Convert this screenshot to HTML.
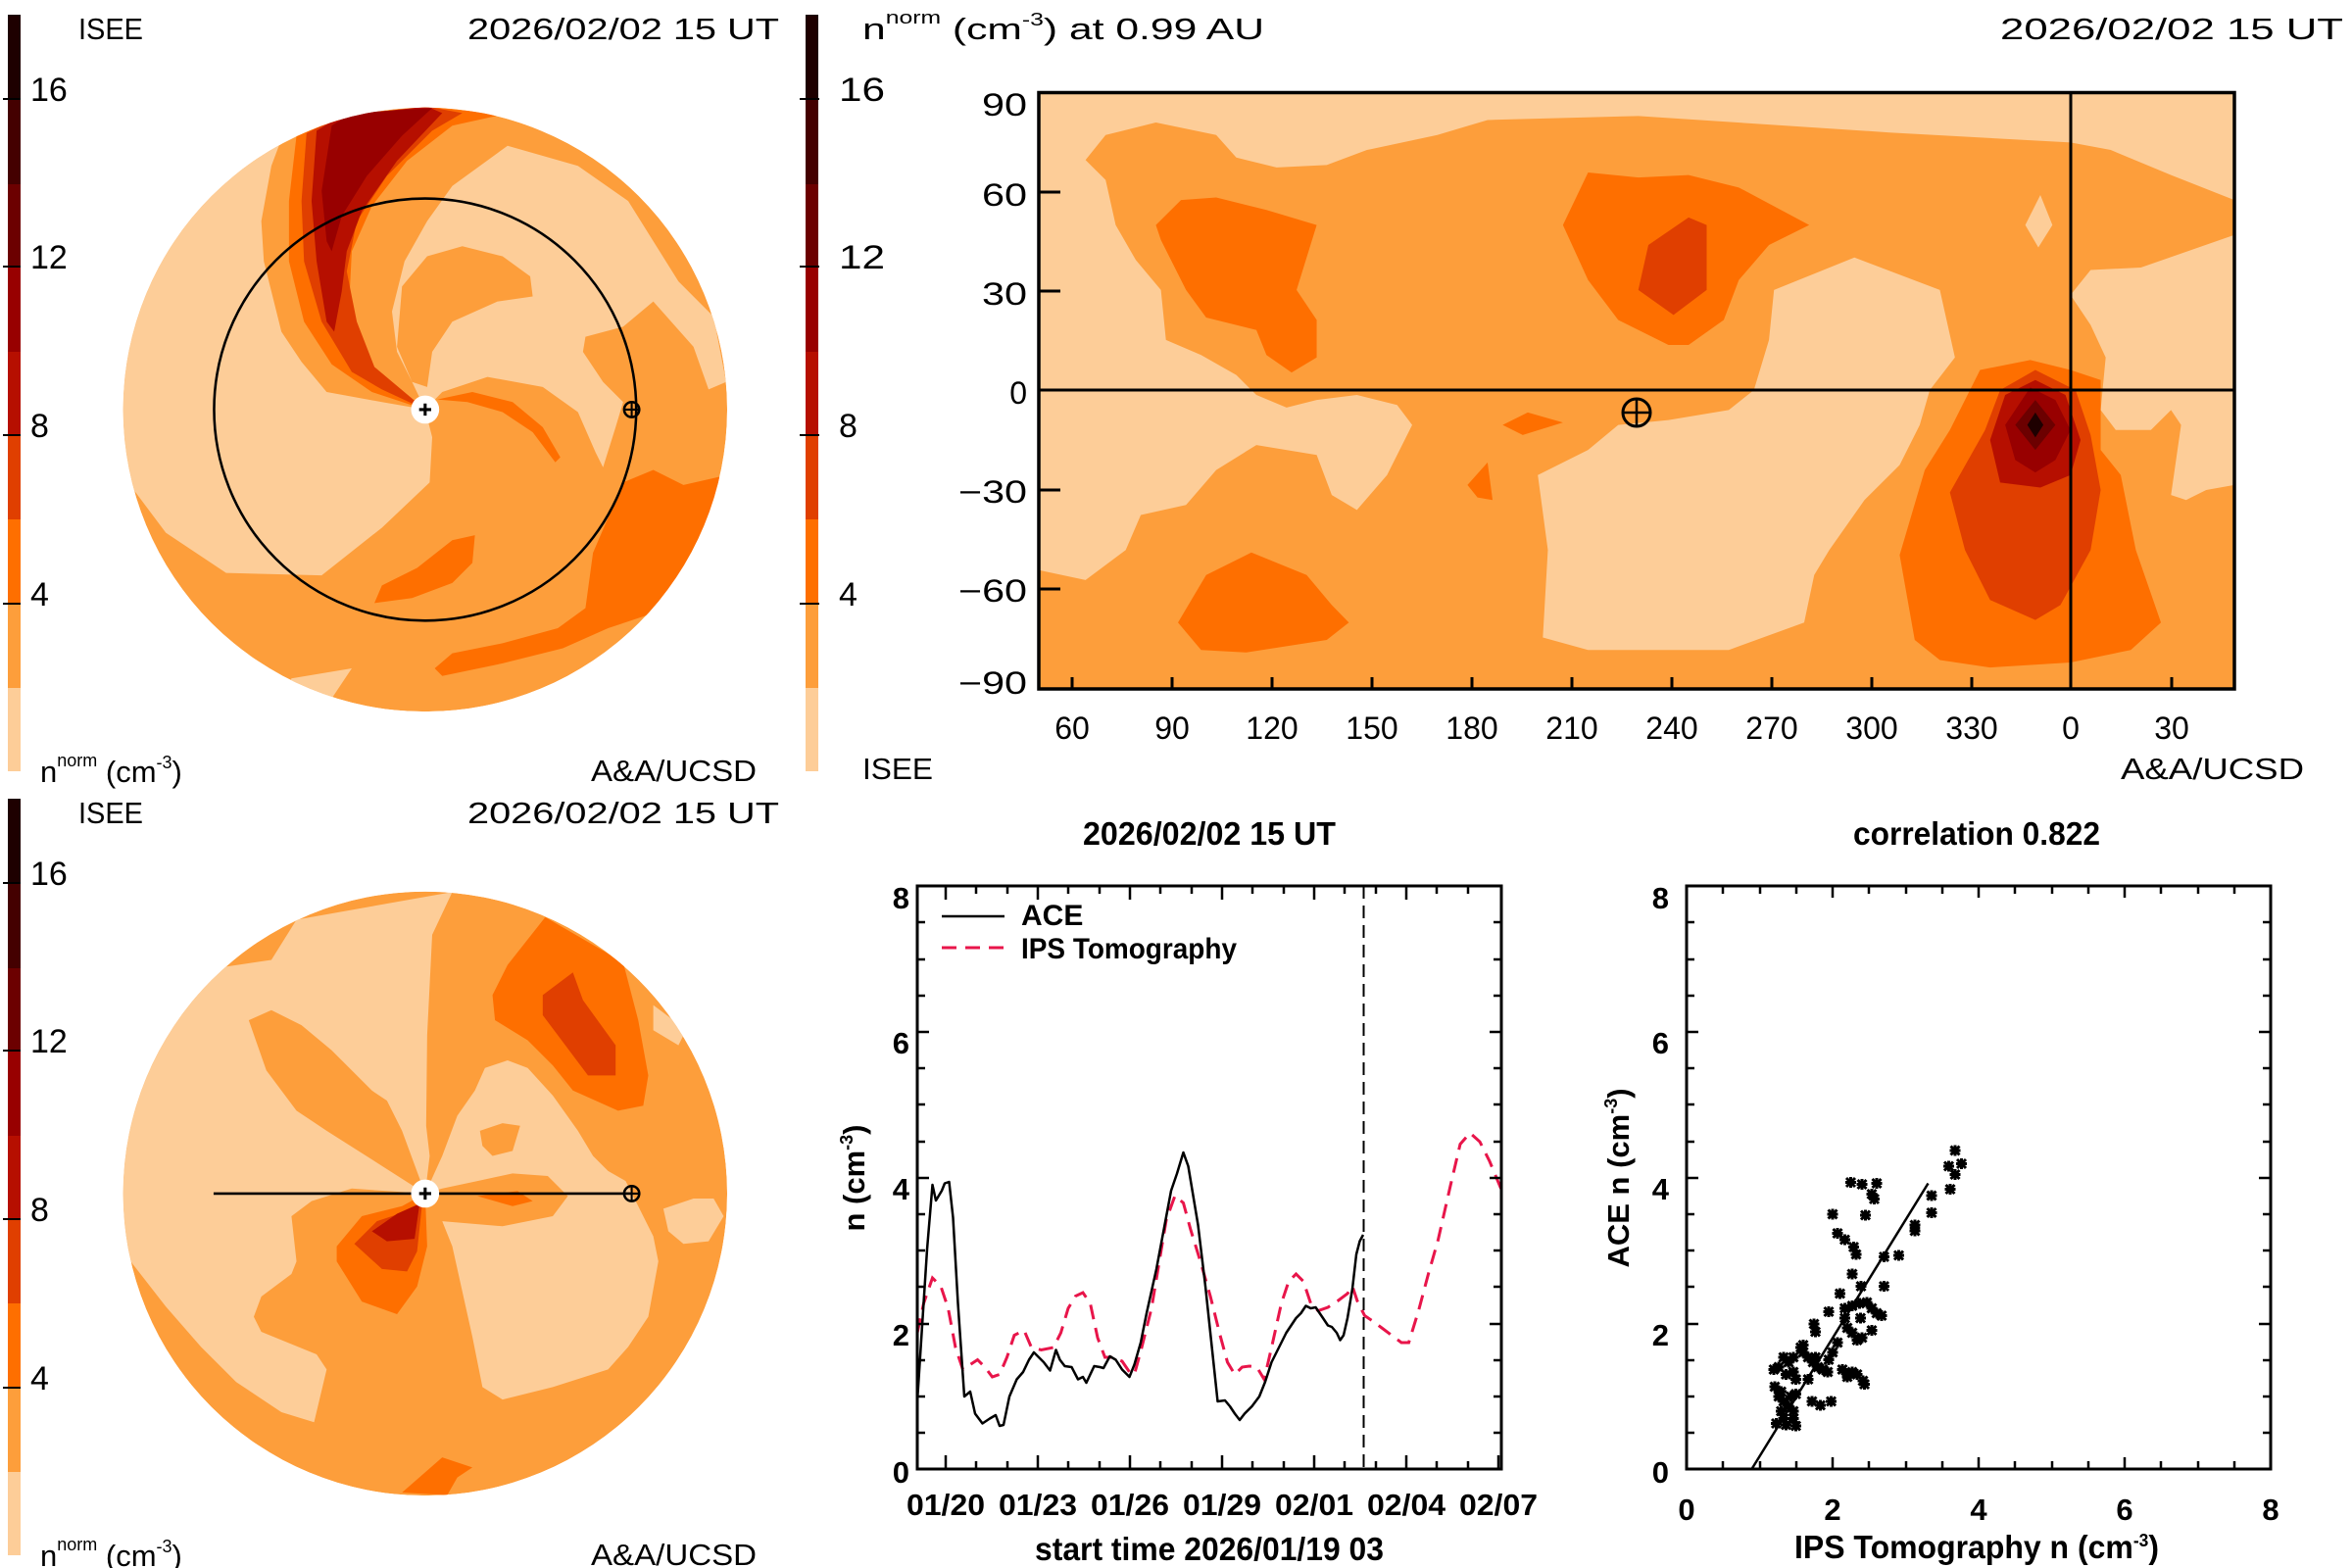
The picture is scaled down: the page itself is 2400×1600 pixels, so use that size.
<!DOCTYPE html>
<html><head><meta charset="utf-8"><style>html,body{margin:0;padding:0;background:#fff}svg{display:block}</style></head>
<body>
<svg width="2400" height="1600" viewBox="0 0 2400 1600" xmlns="http://www.w3.org/2000/svg" font-family="Liberation Sans, sans-serif">
<defs>
<clipPath id="c1"><circle cx="846" cy="815" r="601"/></clipPath>
<clipPath id="bx"><rect x="253" y="185" width="1190" height="1193"/></clipPath>
<g id="cbar">
<rect x="0" y="701" width="13" height="86" fill="#fdcd98"/>
<rect x="0" y="615" width="13" height="87" fill="#fd9e3b"/>
<rect x="0" y="529" width="13" height="87" fill="#fe6f00"/>
<rect x="0" y="444" width="13" height="86" fill="#e03f00"/>
<rect x="0" y="358" width="13" height="87" fill="#b60f00"/>
<rect x="0" y="272" width="13" height="87" fill="#980000"/>
<rect x="0" y="187" width="13" height="86" fill="#6c0000"/>
<rect x="0" y="101" width="13" height="87" fill="#440000"/>
<rect x="0" y="15" width="13" height="87" fill="#1e0000"/>
</g>
<path id="ast" d="M-9,-9L9,9M-9,9L9,-9M-11,0L11,0M0,-11L0,11" stroke="#000" stroke-width="6" fill="none"/>
</defs>

<!-- ============ TOP LEFT ============ -->
<g>
<use href="#cbar" x="8"/>
<g stroke="#000" stroke-width="2"><line x1="3" y1="101" x2="21" y2="101"/><line x1="3" y1="272" x2="21" y2="272"/><line x1="3" y1="444" x2="21" y2="444"/><line x1="3" y1="616" x2="21" y2="616"/></g>
<g font-size="31" fill="#000">
<text x="31" y="103" font-size="34">16</text><text x="31" y="274" font-size="34">12</text><text x="31" y="446" font-size="34">8</text><text x="31" y="618" font-size="34">4</text>
<text x="80" y="40" textLength="66" lengthAdjust="spacingAndGlyphs">ISEE</text>
<text x="477" y="40" textLength="318" lengthAdjust="spacingAndGlyphs">2026/02/02  15  UT</text>
<text x="41" y="798">n<tspan font-size="18" dy="-16">norm</tspan><tspan dy="16"> (cm</tspan><tspan font-size="18" dy="-14">-3</tspan><tspan dy="14">)</tspan></text>
<text x="603" y="797" textLength="169" lengthAdjust="spacingAndGlyphs">A&amp;A/UCSD</text>
</g>
<g transform="scale(0.5128)">
<g clip-path="url(#c1)">
<circle cx="846" cy="815" r="601" fill="#fd9e3b"/>
<polygon fill="#fdcd98" points="500,200 555,290 540,330 520,440 525,520 545,600 560,660 600,720 650,780 760,800 846,815 860,870 855,960 760,1050 640,1145 450,1140 330,1060 240,940 200,200"/>
<polygon fill="#fdcd98" points="846,815 820,760 790,700 780,620 805,520 850,440 900,370 1010,290 1150,330 1250,400 1350,560 1420,630 1445,760 1410,775 1380,690 1300,600 1240,650 1165,670 1160,700 1200,760 1240,800 1225,850 1200,930 1185,900 1150,820 1080,770 970,750 880,780"/>
<polygon fill="#fd9e3b" points="790,690 800,570 850,510 920,490 1000,510 1055,550 1060,590 990,600 900,640 860,700 850,770 820,760"/>
<polygon fill="#fdcd98" points="580,1350 700,1330 660,1390 560,1400"/>
<polygon fill="#fe6f00" points="865,1330 900,1300 1000,1280 1110,1250 1165,1210 1180,1100 1240,960 1300,935 1360,965 1470,940 1470,1500 1300,1220 1210,1250 1120,1290 1000,1320 880,1345"/>
<polygon fill="#fe6f00" points="745,1200 760,1165 830,1130 900,1075 945,1065 940,1120 900,1160 820,1190"/>
<polygon fill="#fe6f00" points="870,795 940,780 1020,800 1080,850 1115,910 1105,920 1060,860 1000,820 930,800"/>
<polygon fill="#fe6f00" points="590,270 575,400 575,520 605,640 660,725 740,780 846,815 760,760 720,700 695,600 700,500 740,410 810,320 900,250 1000,228 850,212 640,250"/>
<polygon fill="#e03f00" points="610,265 600,400 605,520 640,640 700,740 760,775 846,815 745,730 710,640 690,540 710,440 770,350 860,260 920,225 850,212 660,240"/>
<polygon fill="#b60f00" points="630,260 620,400 630,520 650,640 665,660 680,580 690,500 720,420 790,320 880,225 850,212 680,230"/>
<polygon fill="#980000" points="660,250 640,380 650,480 660,500 680,430 730,350 800,270 860,215 700,225"/>
</g>
<circle cx="846" cy="815" r="420" fill="none" stroke="#000" stroke-width="5"/>
<circle cx="846" cy="815" r="28" fill="#fff"/>
<path d="M834,815H858M846,803V827" stroke="#000" stroke-width="6"/>
<circle cx="1257" cy="815" r="15" fill="none" stroke="#000" stroke-width="5"/>
<path d="M1242,815H1272M1257,800V830" stroke="#000" stroke-width="4"/>
</g>
</g>

<!-- ============ BOTTOM LEFT ============ -->
<g transform="translate(0,800)">
<use href="#cbar" x="8"/>
<g stroke="#000" stroke-width="2"><line x1="3" y1="101" x2="21" y2="101"/><line x1="3" y1="272" x2="21" y2="272"/><line x1="3" y1="444" x2="21" y2="444"/><line x1="3" y1="616" x2="21" y2="616"/></g>
<g font-size="31" fill="#000">
<text x="31" y="103" font-size="34">16</text><text x="31" y="274" font-size="34">12</text><text x="31" y="446" font-size="34">8</text><text x="31" y="618" font-size="34">4</text>
<text x="80" y="40" textLength="66" lengthAdjust="spacingAndGlyphs">ISEE</text>
<text x="477" y="40" textLength="318" lengthAdjust="spacingAndGlyphs">2026/02/02  15  UT</text>
<text x="41" y="798">n<tspan font-size="18" dy="-16">norm</tspan><tspan dy="16"> (cm</tspan><tspan font-size="18" dy="-14">-3</tspan><tspan dy="14">)</tspan></text>
<text x="603" y="797" textLength="169" lengthAdjust="spacingAndGlyphs">A&amp;A/UCSD</text>
</g>
<g transform="scale(0.5128)">
<g clip-path="url(#c1)">
<circle cx="846" cy="815" r="601" fill="#fd9e3b"/>
<polygon fill="#fdcd98" points="440,365 540,350 590,270 900,215 860,300 850,500 848,680 855,740 846,815 700,805 620,830 580,860 590,950 580,975 520,1020 505,1060 520,1090 630,1135 650,1165 625,1270 560,1250 470,1190 400,1120 330,1040 260,950 200,900 200,200"/>
<polygon fill="#fd9e3b" points="495,470 540,450 600,480 660,530 740,610 770,630 800,690 846,815 760,760 650,690 590,650 530,570"/>
<polygon fill="#fdcd98" points="846,815 880,740 910,660 945,610 965,565 1010,550 1050,565 1100,620 1150,690 1180,740 1210,770 1245,790 1300,900 1310,950 1290,1060 1250,1120 1210,1165 1100,1200 1000,1225 960,1200 940,1100 900,920 880,870 1000,880 1100,860 1130,820 1090,780 1020,775 950,790 880,805"/>
<polygon fill="#fd9e3b" points="955,690 1000,675 1035,680 1020,730 980,740 960,720"/>
<polygon fill="#fdcd98" points="1300,440 1340,470 1360,500 1350,520 1300,490"/>
<polygon fill="#fdcd98" points="1320,845 1380,825 1420,825 1440,860 1410,910 1360,915 1330,890"/>
<polygon fill="#fe6f00" points="980,420 1010,360 1085,265 1240,355 1270,470 1290,580 1280,640 1230,650 1140,610 1100,560 1050,510 985,470"/>
<polygon fill="#e03f00" points="1080,420 1140,375 1160,430 1225,520 1225,580 1170,580 1110,500 1080,460"/>
<polygon fill="#fe6f00" points="670,920 720,860 800,840 846,815 850,920 830,1000 790,1055 720,1030 670,950"/>
<polygon fill="#e03f00" points="705,915 750,870 810,850 840,835 830,930 810,970 760,965"/>
<polygon fill="#b60f00" points="740,890 790,855 835,835 825,905 770,910"/>
<polygon fill="#fe6f00" points="800,1410 880,1340 940,1360 910,1380 890,1415"/>
<polygon fill="#fe6f00" points="950,820 1030,810 1060,830 1020,840"/>
</g>
<line x1="425" y1="815" x2="1257" y2="815" stroke="#000" stroke-width="5"/>
<circle cx="846" cy="815" r="28" fill="#fff"/>
<path d="M834,815H858M846,803V827" stroke="#000" stroke-width="6"/>
<circle cx="1257" cy="815" r="15" fill="none" stroke="#000" stroke-width="5"/>
<path d="M1242,815H1272M1257,800V830" stroke="#000" stroke-width="4"/>
</g>
</g>

<!-- ============ TOP RIGHT ============ -->
<g>
<use href="#cbar" x="822"/>
<g stroke="#000" stroke-width="2"><line x1="816" y1="101" x2="836" y2="101"/><line x1="816" y1="272" x2="836" y2="272"/><line x1="816" y1="444" x2="836" y2="444"/><line x1="816" y1="616" x2="836" y2="616"/></g>
<g font-size="31" fill="#000">
<text x="856" y="103" font-size="34" textLength="47" lengthAdjust="spacingAndGlyphs">16</text>
<text x="856" y="274" font-size="34" textLength="47" lengthAdjust="spacingAndGlyphs">12</text>
<text x="856" y="446" font-size="34">8</text><text x="856" y="618" font-size="34">4</text>
<text x="880" y="40" textLength="410" lengthAdjust="spacingAndGlyphs">n<tspan font-size="18" dy="-16">norm</tspan><tspan dy="16">  (cm</tspan><tspan font-size="18" dy="-14">-3</tspan><tspan dy="14">)  at  0.99  AU</tspan></text>
<text x="2041" y="40" textLength="350" lengthAdjust="spacingAndGlyphs">2026/02/02  15  UT</text>
<text x="880" y="795" textLength="72" lengthAdjust="spacingAndGlyphs">ISEE</text>
<text x="2164" y="795" textLength="187" lengthAdjust="spacingAndGlyphs">A&amp;A/UCSD</text>
</g>
<g transform="translate(800,0) scale(1.0256,0.5102)">
<g clip-path="url(#bx)">
<rect x="253" y="185" width="1190" height="1193" fill="#fd9e3b"/>
<polygon fill="#fdcd98" points="253,185 1443,185 1443,400 1380,350 1320,300 1280,285 1100,265 850,232 700,240 650,270 580,300 540,330 490,335 450,315 430,270 370,245 320,270 300,320 320,360 330,450 350,520 375,580 380,680 415,710 450,750 470,790 500,815 530,800 570,790 610,810 625,850 600,950 570,1020 545,990 530,910 470,890 430,940 400,1010 355,1030 340,1100 300,1160 253,1140"/>
<polygon fill="#fdcd98" points="985,580 1065,515 1150,580 1165,715 1140,780 1130,850 1110,930 1075,1000 1040,1100 1025,1150 1015,1245 940,1300 800,1300 755,1275 760,1100 750,950 800,900 830,850 880,840 940,820 965,780 980,680"/>
<polygon fill="#fdcd98" points="1280,590 1300,540 1350,535 1443,470 1443,970 1415,980 1395,1000 1380,990 1390,850 1380,820 1360,860 1325,860 1310,820 1315,715 1300,650"/>
<polygon fill="#fdcd98" points="1250,390 1262,450 1248,495 1235,450"/>
<polygon fill="#fe6f00" points="370,450 395,400 430,395 480,420 530,450 510,580 530,640 530,715 505,745 480,710 470,660 420,635 400,580 375,480"/>
<polygon fill="#fe6f00" points="775,450 800,345 850,355 900,350 950,375 1020,450 980,490 950,560 935,640 900,690 880,690 830,640 800,560"/>
<polygon fill="#e03f00" points="850,580 860,490 900,435 918,450 918,580 885,630"/>
<polygon fill="#fe6f00" points="715,850 740,825 775,845 735,870"/>
<polygon fill="#fe6f00" points="680,970 700,925 705,1000 690,995"/>
<polygon fill="#fe6f00" points="392,1245 420,1150 465,1105 520,1150 545,1210 562,1245 540,1280 460,1305 415,1300"/>
<polygon fill="#fe6f00" points="1110,1110 1135,940 1160,860 1190,740 1240,720 1280,740 1310,760 1310,900 1330,950 1345,1100 1370,1245 1340,1300 1280,1325 1200,1335 1150,1320 1125,1280"/>
<polygon fill="#e03f00" points="1160,985 1195,860 1210,780 1245,740 1285,780 1300,870 1310,980 1300,1100 1270,1210 1245,1240 1200,1200 1175,1100"/>
<polygon fill="#b60f00" points="1200,880 1215,790 1245,760 1275,790 1290,880 1280,950 1250,975 1210,965"/>
<polygon fill="#980000" points="1215,850 1240,775 1265,800 1280,860 1265,920 1245,945 1225,920"/>
<polygon fill="#6c0000" points="1225,850 1245,800 1265,850 1245,900"/>
<polygon fill="#1e0000" points="1237,850 1245,825 1253,850 1245,875"/>
</g>
</g>
<rect x="1060" y="94.5" width="1220" height="608.5" fill="none" stroke="#000" stroke-width="3.5"/>
<line x1="1060" y1="398" x2="2280" y2="398" stroke="#000" stroke-width="3"/>
<line x1="2113" y1="94.5" x2="2113" y2="703" stroke="#000" stroke-width="3"/>
<g stroke="#000" stroke-width="3">
<line x1="1060" y1="196" x2="1082" y2="196"/><line x1="1060" y1="297" x2="1082" y2="297"/><line x1="1060" y1="500" x2="1082" y2="500"/><line x1="1060" y1="601" x2="1082" y2="601"/>
<line x1="1094" y1="703" x2="1094" y2="691"/><line x1="1196" y1="703" x2="1196" y2="691"/><line x1="1298" y1="703" x2="1298" y2="691"/><line x1="1400" y1="703" x2="1400" y2="691"/><line x1="1502" y1="703" x2="1502" y2="691"/><line x1="1604" y1="703" x2="1604" y2="691"/><line x1="1706" y1="703" x2="1706" y2="691"/><line x1="1808" y1="703" x2="1808" y2="691"/><line x1="1910" y1="703" x2="1910" y2="691"/><line x1="2012" y1="703" x2="2012" y2="691"/><line x1="2216" y1="703" x2="2216" y2="691"/>
</g>
<circle cx="1670" cy="421" r="14" fill="none" stroke="#000" stroke-width="3"/>
<path d="M1656,421H1684M1670,407V435" stroke="#000" stroke-width="2.5"/>
<g font-size="32" fill="#000" text-anchor="end">
<text x="1048" y="118" textLength="46" lengthAdjust="spacingAndGlyphs">90</text>
<text x="1048" y="210" textLength="46" lengthAdjust="spacingAndGlyphs">60</text>
<text x="1048" y="311" textLength="46" lengthAdjust="spacingAndGlyphs">30</text>
<text x="1048" y="412">0</text>
<text x="1048" y="513" textLength="70" lengthAdjust="spacingAndGlyphs">−30</text>
<text x="1048" y="614" textLength="70" lengthAdjust="spacingAndGlyphs">−60</text>
<text x="1048" y="708" textLength="70" lengthAdjust="spacingAndGlyphs">−90</text>
</g>
<g font-size="32" fill="#000" text-anchor="middle">
<text x="1094" y="754">60</text><text x="1196" y="754">90</text><text x="1298" y="754">120</text><text x="1400" y="754">150</text><text x="1502" y="754">180</text><text x="1604" y="754">210</text><text x="1706" y="754">240</text><text x="1808" y="754">270</text><text x="1910" y="754">300</text><text x="2012" y="754">330</text><text x="2113" y="754">0</text><text x="2216" y="754">30</text>
</g>
</g>

<!-- ============ TIME SERIES ============ -->
<g>
<g font-weight="bold" fill="#000" font-size="33">
<text x="1234" y="862" text-anchor="middle" textLength="258" lengthAdjust="spacingAndGlyphs">2026/02/02 15 UT</text>
<text x="1234" y="1592" text-anchor="middle" textLength="356" lengthAdjust="spacingAndGlyphs">start time 2026/01/19 03</text>
</g>
<g font-weight="bold" fill="#000" font-size="31" text-anchor="end">
<text x="928" y="927">8</text><text x="928" y="1075">6</text><text x="928" y="1224">4</text><text x="928" y="1373">2</text><text x="928" y="1513">0</text>
</g>
<g font-weight="bold" fill="#000" font-size="31" text-anchor="middle">
<text x="965" y="1546" textLength="80" lengthAdjust="spacingAndGlyphs">01/20</text>
<text x="1059" y="1546" textLength="80" lengthAdjust="spacingAndGlyphs">01/23</text>
<text x="1153" y="1546" textLength="80" lengthAdjust="spacingAndGlyphs">01/26</text>
<text x="1247" y="1546" textLength="80" lengthAdjust="spacingAndGlyphs">01/29</text>
<text x="1341" y="1546" textLength="80" lengthAdjust="spacingAndGlyphs">02/01</text>
<text x="1435" y="1546" textLength="80" lengthAdjust="spacingAndGlyphs">02/04</text>
<text x="1529" y="1546" textLength="80" lengthAdjust="spacingAndGlyphs">02/07</text>
</g>
<text transform="translate(882,1202) rotate(-90)" text-anchor="middle" font-weight="bold" font-size="31" fill="#000">n (cm<tspan font-size="18" dy="-12">-3</tspan><tspan dy="12">)</tspan></text>
<g font-weight="bold" fill="#000" font-size="30">
<text x="1042" y="944">ACE</text>
<text x="1042" y="978" textLength="220" lengthAdjust="spacingAndGlyphs">IPS Tomography</text>
</g>
<line x1="961" y1="935" x2="1025" y2="935" stroke="#000" stroke-width="2.5"/>
<line x1="961" y1="967" x2="1025" y2="967" stroke="#e8154a" stroke-width="3" stroke-dasharray="15,9"/>
<g transform="translate(830,820) scale(0.5)">
<polyline fill="none" stroke="#e8154a" stroke-width="6" stroke-dasharray="30,18" points="212,1080 225,1020 243,968 260,985 275,1030 290,1110 305,1155 320,1145 335,1135 350,1150 365,1170 380,1165 395,1130 410,1085 430,1075 445,1110 465,1115 490,1110 505,1080 520,1030 535,1005 550,998 565,1020 580,1090 595,1130 610,1130 630,1138 645,1160 655,1165 670,1110 690,1030 705,940 720,850 738,800 755,815 770,870 790,935 810,1005 830,1085 845,1140 860,1165 875,1150 890,1148 905,1150 920,1175 935,1110 955,1020 970,975 985,960 1000,975 1015,1020 1030,1035 1050,1028 1070,1015 1090,1000 1100,985 1110,1015 1125,1045 1140,1055 1160,1070 1180,1085 1200,1100 1215,1100 1235,1035 1255,960 1275,890 1300,780 1320,695 1340,672 1360,690 1380,730 1405,790"/>
<polyline fill="none" stroke="#000" stroke-width="5" stroke-linejoin="round" points="212,1220 232,910 243,778 250,810 262,790 268,775 277,772 285,845 295,1020 308,1210 320,1200 330,1245 345,1265 360,1255 372,1248 380,1270 388,1268 400,1210 415,1175 428,1160 440,1135 450,1120 460,1130 470,1140 483,1157 495,1115 503,1135 513,1148 527,1150 540,1175 550,1170 557,1182 573,1148 585,1150 592,1152 605,1128 617,1135 630,1155 645,1170 655,1145 668,1100 680,1040 700,950 715,870 730,790 742,755 755,712 765,740 785,860 800,985 825,1220 840,1218 850,1230 860,1245 870,1258 880,1245 895,1230 910,1210 922,1180 935,1140 950,1110 965,1080 975,1065 985,1050 995,1040 1005,1025 1015,1030 1025,1028 1040,1050 1050,1065 1058,1068 1068,1080 1075,1095 1082,1085 1090,1050 1100,990 1108,920 1115,893 1122,880"/>
<line x1="1123" y1="168" x2="1123" y2="1358" stroke="#000" stroke-width="4" stroke-dasharray="26,14"/>
</g>
<rect x="936" y="904" width="596" height="595" fill="none" stroke="#000" stroke-width="3"/>
<g stroke="#000" stroke-width="2.5">
<path d="M936,904h12M936,941h8M936,979h8M936,1016h8M936,1053h12M936,1090h8M936,1127h8M936,1165h8M936,1202h12M936,1239h8M936,1276h8M936,1313h8M936,1351h12M936,1388h8M936,1425h8M936,1462h8"/>
<path d="M1532,904h-12M1532,941h-8M1532,979h-8M1532,1016h-8M1532,1053h-12M1532,1090h-8M1532,1127h-8M1532,1165h-8M1532,1202h-12M1532,1239h-8M1532,1276h-8M1532,1313h-8M1532,1351h-12M1532,1388h-8M1532,1425h-8M1532,1462h-8"/>
<path d="M965,1499v-14M996,1499v-8M1028,1499v-8M1059,1499v-14M1090,1499v-8M1122,1499v-8M1153,1499v-14M1184,1499v-8M1216,1499v-8M1247,1499v-14M1278,1499v-8M1310,1499v-8M1341,1499v-14M1372,1499v-8M1404,1499v-8M1435,1499v-14M1466,1499v-8M1498,1499v-8M1529,1499v-14"/>
<path d="M965,904v14M996,904v8M1028,904v8M1059,904v14M1090,904v8M1122,904v8M1153,904v14M1184,904v8M1216,904v8M1247,904v14M1278,904v8M1310,904v8M1341,904v14M1372,904v8M1404,904v8M1435,904v14M1466,904v8M1498,904v8"/>
</g>
</g>

<!-- ============ SCATTER ============ -->
<g>
<g font-weight="bold" fill="#000" font-size="33" text-anchor="middle">
<text x="2017" y="862" textLength="252" lengthAdjust="spacingAndGlyphs">correlation 0.822</text>
<text x="2017" y="1590" textLength="372" lengthAdjust="spacingAndGlyphs">IPS Tomography n (cm<tspan font-size="18" dy="-12">-3</tspan><tspan dy="12">)</tspan></text>
</g>
<g font-weight="bold" fill="#000" font-size="31" text-anchor="end">
<text x="1703" y="927">8</text><text x="1703" y="1075">6</text><text x="1703" y="1224">4</text><text x="1703" y="1373">2</text><text x="1703" y="1513">0</text>
</g>
<g font-weight="bold" fill="#000" font-size="31" text-anchor="middle">
<text x="1721" y="1551">0</text><text x="1870" y="1551">2</text><text x="2019" y="1551">4</text><text x="2168" y="1551">6</text><text x="2317" y="1551">8</text>
</g>
<text transform="translate(1662,1202) rotate(-90)" text-anchor="middle" font-weight="bold" font-size="31" fill="#000">ACE n (cm<tspan font-size="18" dy="-12">-3</tspan><tspan dy="12">)</tspan></text>
<rect x="1721" y="904" width="596" height="595" fill="none" stroke="#000" stroke-width="3"/>
<g stroke="#000" stroke-width="2.5">
<path d="M1721,904h12M1721,941h8M1721,979h8M1721,1016h8M1721,1053h12M1721,1090h8M1721,1127h8M1721,1165h8M1721,1202h12M1721,1239h8M1721,1276h8M1721,1313h8M1721,1351h12M1721,1388h8M1721,1425h8M1721,1462h8"/>
<path d="M2317,904h-12M2317,941h-8M2317,979h-8M2317,1016h-8M2317,1053h-12M2317,1090h-8M2317,1127h-8M2317,1165h-8M2317,1202h-12M2317,1239h-8M2317,1276h-8M2317,1313h-8M2317,1351h-12M2317,1388h-8M2317,1425h-8M2317,1462h-8"/>
<path d="M1758,1499v-8M1796,1499v-8M1833,1499v-8M1870,1499v-12M1907,1499v-8M1945,1499v-8M1982,1499v-8M2019,1499v-12M2056,1499v-8M2094,1499v-8M2131,1499v-8M2168,1499v-12M2205,1499v-8M2243,1499v-8M2280,1499v-8"/>
<path d="M1758,904v8M1796,904v8M1833,904v8M1870,904v12M1907,904v8M1945,904v8M1982,904v8M2019,904v12M2056,904v8M2094,904v8M2131,904v8M2168,904v12M2205,904v8M2243,904v8M2280,904v8"/>
</g>
<g transform="translate(1610,820) scale(0.5)">
<line x1="355" y1="1358" x2="715" y2="775" stroke="#000" stroke-width="5"/>
<g>
<use href="#ast" x="770" y="708"/><use href="#ast" x="757" y="740"/><use href="#ast" x="783" y="735"/><use href="#ast" x="770" y="757"/><use href="#ast" x="760" y="787"/><use href="#ast" x="722" y="800"/><use href="#ast" x="722" y="835"/><use href="#ast" x="557" y="773"/><use href="#ast" x="580" y="777"/><use href="#ast" x="610" y="775"/><use href="#ast" x="600" y="797"/><use href="#ast" x="605" y="807"/><use href="#ast" x="520" y="838"/><use href="#ast" x="587" y="840"/><use href="#ast" x="530" y="877"/><use href="#ast" x="545" y="890"/><use href="#ast" x="563" y="905"/><use href="#ast" x="568" y="920"/><use href="#ast" x="688" y="860"/><use href="#ast" x="688" y="872"/><use href="#ast" x="655" y="922"/><use href="#ast" x="625" y="925"/><use href="#ast" x="560" y="960"/><use href="#ast" x="578" y="985"/><use href="#ast" x="625" y="985"/><use href="#ast" x="535" y="1000"/><use href="#ast" x="560" y="1025"/><use href="#ast" x="575" y="1020"/><use href="#ast" x="590" y="1018"/><use href="#ast" x="600" y="1030"/><use href="#ast" x="610" y="1040"/><use href="#ast" x="620" y="1045"/><use href="#ast" x="577" y="1050"/><use href="#ast" x="545" y="1030"/><use href="#ast" x="545" y="1050"/><use href="#ast" x="512" y="1037"/><use href="#ast" x="550" y="1070"/><use href="#ast" x="560" y="1080"/><use href="#ast" x="570" y="1095"/><use href="#ast" x="580" y="1090"/><use href="#ast" x="600" y="1075"/><use href="#ast" x="482" y="1062"/><use href="#ast" x="485" y="1078"/><use href="#ast" x="530" y="1100"/><use href="#ast" x="520" y="1120"/><use href="#ast" x="512" y="1135"/><use href="#ast" x="455" y="1110"/><use href="#ast" x="460" y="1120"/><use href="#ast" x="470" y="1130"/><use href="#ast" x="480" y="1140"/><use href="#ast" x="490" y="1150"/><use href="#ast" x="500" y="1155"/><use href="#ast" x="510" y="1160"/><use href="#ast" x="540" y="1155"/><use href="#ast" x="550" y="1165"/><use href="#ast" x="560" y="1160"/><use href="#ast" x="570" y="1165"/><use href="#ast" x="582" y="1178"/><use href="#ast" x="585" y="1185"/><use href="#ast" x="550" y="1170"/><use href="#ast" x="440" y="1130"/><use href="#ast" x="430" y="1140"/><use href="#ast" x="420" y="1130"/><use href="#ast" x="410" y="1150"/><use href="#ast" x="400" y="1155"/><use href="#ast" x="402" y="1190"/><use href="#ast" x="415" y="1200"/><use href="#ast" x="425" y="1165"/><use href="#ast" x="440" y="1160"/><use href="#ast" x="445" y="1175"/><use href="#ast" x="470" y="1175"/><use href="#ast" x="478" y="1220"/><use href="#ast" x="495" y="1228"/><use href="#ast" x="517" y="1220"/><use href="#ast" x="410" y="1210"/><use href="#ast" x="420" y="1220"/><use href="#ast" x="430" y="1230"/><use href="#ast" x="440" y="1240"/><use href="#ast" x="415" y="1240"/><use href="#ast" x="420" y="1255"/><use href="#ast" x="440" y="1255"/><use href="#ast" x="405" y="1265"/><use href="#ast" x="425" y="1268"/><use href="#ast" x="445" y="1270"/><use href="#ast" x="435" y="1210"/><use href="#ast" x="445" y="1205"/><use href="#ast" x="460" y="1105"/><use href="#ast" x="485" y="1130"/>
</g>
</g>
</g>
</svg>
</body></html>
